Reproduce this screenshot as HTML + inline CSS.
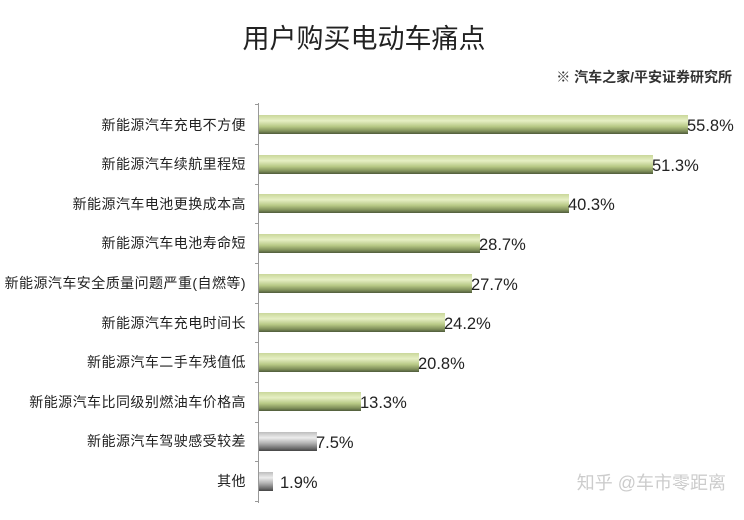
<!DOCTYPE html>
<html><head><meta charset="utf-8"><style>
html,body{margin:0;padding:0;background:#fff;width:744px;height:520px;overflow:hidden}
text{font-family:"Liberation Sans","Microsoft YaHei","Noto Sans CJK SC",sans-serif}
</style></head><body>
<svg width="744" height="520" xmlns="http://www.w3.org/2000/svg">
<defs>
<linearGradient id="g" x1="0" y1="0" x2="0" y2="1">
<stop offset="0" stop-color="#c9d79a"/><stop offset="0.3" stop-color="#e6efc4"/><stop offset="0.6" stop-color="#b8c986"/><stop offset="0.85" stop-color="#7f8f5a"/><stop offset="1" stop-color="#4f5a3a"/>
</linearGradient>
<linearGradient id="s" x1="0" y1="0" x2="0" y2="1">
<stop offset="0" stop-color="#bdbdbd"/><stop offset="0.3" stop-color="#ececec"/><stop offset="0.6" stop-color="#b0b0b0"/><stop offset="0.85" stop-color="#707070"/><stop offset="1" stop-color="#444"/>
</linearGradient>
</defs>
<text x="364" y="48" font-size="27" text-anchor="middle" fill="#222">用户购买电动车痛点</text>
<text x="732" y="82" font-size="14" font-weight="bold" text-anchor="end" fill="#333">※ 汽车之家/平安证券研究所</text>
<line x1="258.5" y1="103" x2="258.5" y2="503" stroke="#999" stroke-width="1"/>
<g stroke="#999" stroke-width="1">
<line x1="255" y1="104.5" x2="259" y2="104.5"/><line x1="255" y1="144.5" x2="259" y2="144.5"/><line x1="255" y1="184.5" x2="259" y2="184.5"/><line x1="255" y1="223.5" x2="259" y2="223.5"/><line x1="255" y1="263.5" x2="259" y2="263.5"/><line x1="255" y1="303.5" x2="259" y2="303.5"/><line x1="255" y1="342.5" x2="259" y2="342.5"/><line x1="255" y1="382.5" x2="259" y2="382.5"/><line x1="255" y1="422.5" x2="259" y2="422.5"/><line x1="255" y1="461.5" x2="259" y2="461.5"/><line x1="255" y1="501.5" x2="259" y2="501.5"/>
</g>
<g font-size="14" fill="#222" text-anchor="end" letter-spacing="0.45">
<text x="246" y="130">新能源汽车充电不方便</text>
<text x="246" y="169">新能源汽车续航里程短</text>
<text x="246" y="209">新能源汽车电池更换成本高</text>
<text x="246" y="248">新能源汽车电池寿命短</text>
<text x="246" y="288">新能源汽车安全质量问题严重(自燃等)</text>
<text x="246" y="328">新能源汽车充电时间长</text>
<text x="246" y="367">新能源汽车二手车残值低</text>
<text x="246" y="407">新能源汽车比同级别燃油车价格高</text>
<text x="246" y="446">新能源汽车驾驶感受较差</text>
<text x="246" y="486">其他</text>
</g>
<g>
<rect x="259" y="115" width="429" height="19" fill="url(#g)"/>
<rect x="259" y="155" width="394" height="19" fill="url(#g)"/>
<rect x="259" y="194" width="310" height="19" fill="url(#g)"/>
<rect x="259" y="234" width="221" height="19" fill="url(#g)"/>
<rect x="259" y="274" width="213" height="19" fill="url(#g)"/>
<rect x="259" y="313" width="186" height="19" fill="url(#g)"/>
<rect x="259" y="353" width="160" height="19" fill="url(#g)"/>
<rect x="259" y="392" width="102" height="19" fill="url(#g)"/>
<rect x="259" y="432" width="58" height="19" fill="url(#s)"/>
<rect x="259" y="472" width="14" height="19" fill="url(#s)"/>
</g>
<g font-size="16.5" fill="#222">
<text x="687" y="131">55.8%</text>
<text x="652" y="171">51.3%</text>
<text x="568" y="210">40.3%</text>
<text x="479" y="250">28.7%</text>
<text x="471" y="290">27.7%</text>
<text x="444" y="329">24.2%</text>
<text x="418" y="369">20.8%</text>
<text x="360" y="408">13.3%</text>
<text x="316" y="448">7.5%</text>
<text x="280" y="488">1.9%</text>
</g>
<text x="726" y="489" font-size="18" text-anchor="end" fill="#ccc">知乎 @车市零距离</text>
</svg>
</body></html>
